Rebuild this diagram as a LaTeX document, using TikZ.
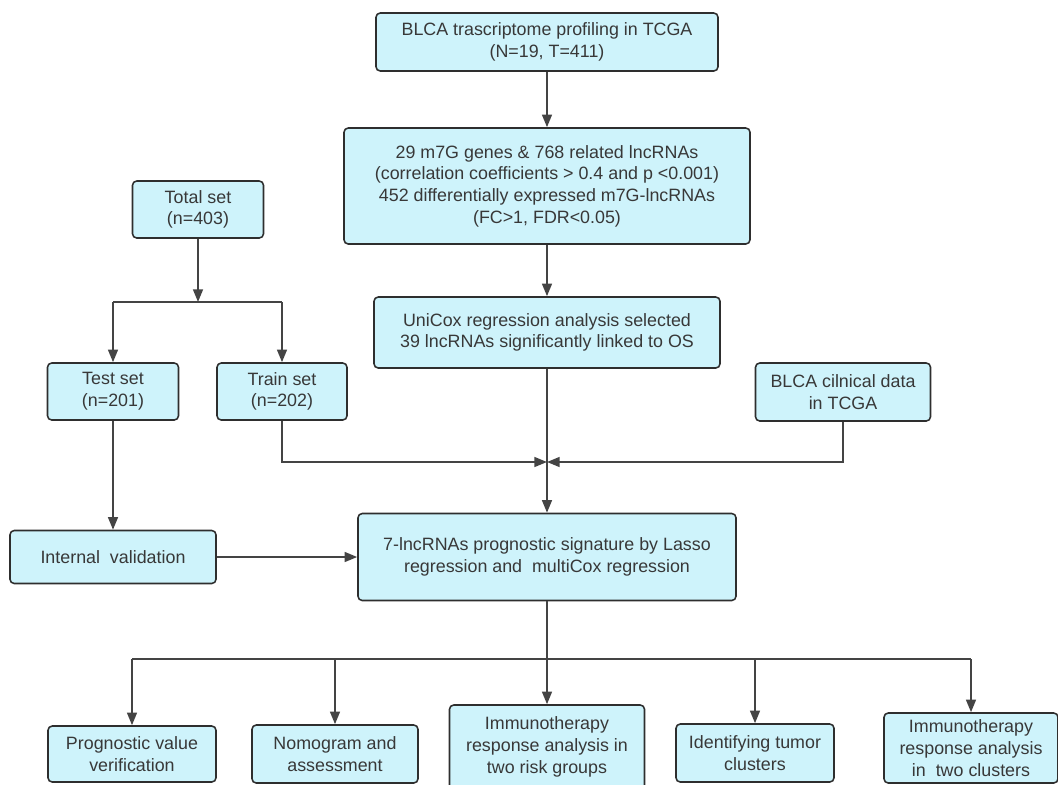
\documentclass[tikz,border=0pt]{standalone}
\usepackage{fontspec}
\setmainfont{Liberation Sans}
\usepackage{xcolor}
\usetikzlibrary{arrows.meta,positioning,calc}
\definecolor{boxfill}{HTML}{CEF3FB}
\definecolor{boxline}{HTML}{2E2E2E}
\definecolor{flowline}{HTML}{444444}
\definecolor{boxtext}{HTML}{383838}
\begin{document}
\begin{tikzpicture}[x=0.025cm,y=-0.025cm,
    stagebox/.style={draw=boxline,fill=boxfill,rounded corners=3pt,line width=1.1pt,
      align=center,text=boxtext,inner sep=0pt,font=\fontsize{12.7}{15.4}\selectfont},
    sz/.style 2 args={minimum width=#1*0.025cm,minimum height=#2*0.025cm},
    link/.style={draw=flowline,line width=1.4pt},
    flow/.style={link,-{Triangle[length=9pt,width=7pt]}}
  ]
    \useasboundingbox (0,0) rectangle (1058,784);
    \node[stagebox,sz={342}{58}] (prof) at (547,42) {BLCA trascriptome profiling in TCGA\\(N=19, T=411)};
    \node[stagebox,sz={406}{116}] (genes) at (547,186) {29 m7G genes \& 768 related lncRNAs\\
      (correlation coefficients > 0.4 and p <0.001)\\452 differentially expressed m7G-lncRNAs\\(FC>1, FDR<0.05)};
    \node[stagebox,sz={131}{57}] (total) at (198,209.5) {Total set\\(n=403)};
    \node[stagebox,sz={346}{71}] (unicox) at (547,332.5) {UniCox regression analysis selected\\39 lncRNAs significantly linked to OS};
    \node[stagebox,sz={131}{57}] (test) at (113,391.5) {Test set\\(n=201)};
    \node[stagebox,sz={130}{57}] (train) at (282,391.5) {Train set\\(n=202)};
    \node[stagebox,sz={175}{58}] (clin) at (843,392) {BLCA cilnical data\\in TCGA};
    \node[stagebox,sz={206}{53}] (intv) at (113,557) {Internal~ validation};
    \node[stagebox,sz={378}{87}] (sig) at (547,557) {7-lncRNAs prognostic signature by Lasso\\regression and~ multiCox regression};
    \node[stagebox,sz={168}{56}] (prog) at (132,754) {Prognostic value\\verification};
    \node[stagebox,sz={166}{58}] (nomo) at (335,754) {Nomogram and\\assessment};
    \node[stagebox,sz={195}{84}] (immrisk) at (547,747) {Immunotherapy\\response analysis in\\two risk groups};
    \node[stagebox,sz={158}{58}] (ident) at (755,753) {Identifying tumor\\clusters};
    \node[stagebox,sz={174}{70}] (immclus) at (971,748) {Immunotherapy\\response analysis\\in~ two clusters};
    \coordinate (split) at (198,302);
    \coordinate (join) at (547,462);
    \coordinate (fan) at (547,659);
    \draw[flow] (prof) -- (genes);
    \draw[flow] (genes) -- (unicox);
    \draw[flow] (total) -- (split);
    \draw[link] (split -| test.north) -- (split -| train.north);
    \draw[flow] (split -| test.north) -- (test);
    \draw[flow] (split -| train.north) -- (train);
    \draw[flow] (test) -- (test.south |- intv.north);
    \draw[flow] (intv) -- (sig);
    \draw[flow] (train.south) |- (join);
    \draw[flow] (clin.south) |- (join);
    \draw[flow] (unicox) -- (sig);
    \draw[link] (sig) -- (fan);
    \draw[link] (fan -| prog.north) -- (fan -| immclus.north);
    \draw[flow] (fan -| prog.north) -- (prog);
    \draw[flow] (fan -| nomo.north) -- (nomo);
    \draw[flow] (fan) -- (immrisk);
    \draw[flow] (fan -| ident.north) -- (ident);
    \draw[flow] (fan -| immclus.north) -- (immclus);
\end{tikzpicture}
\end{document}
